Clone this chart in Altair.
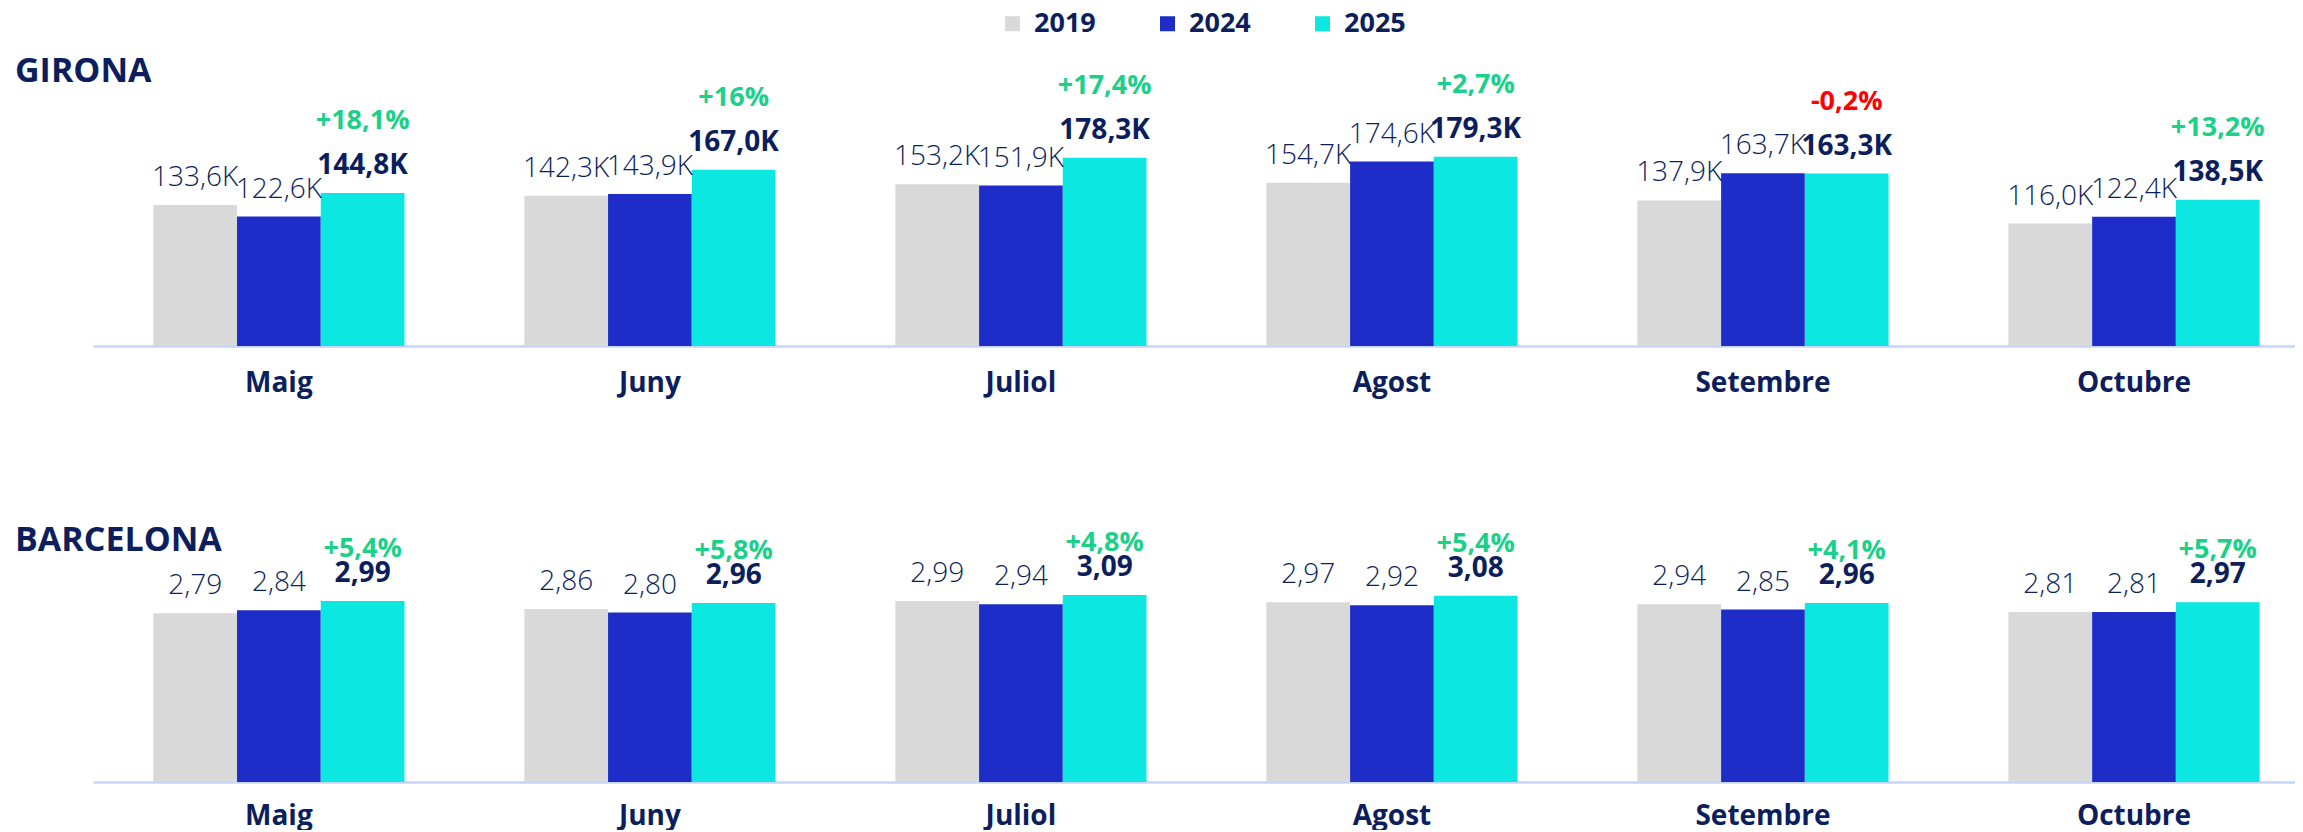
import altair as alt
import pandas as pd

months = ["Maig", "Juny", "Juliol", "Agost", "Setembre", "Octubre"]
years = ["2019", "2024", "2025"]

girona_2019 = [133.6, 142.3, 153.2, 154.7, 137.9, 116.0]
girona_2024 = [122.6, 143.9, 151.9, 174.6, 163.7, 122.4]
girona_2025 = [144.8, 167.0, 178.3, 179.3, 163.3, 138.5]
girona_pct = ["+18,1%", "+16%", "+17,4%", "+2,7%", "-0,2%", "+13,2%"]

bcn_2019 = [2.79, 2.86, 2.99, 2.97, 2.94, 2.81]
bcn_2024 = [2.84, 2.80, 2.94, 2.92, 2.85, 2.81]
bcn_2025 = [2.99, 2.96, 3.09, 3.08, 2.96, 2.97]
bcn_pct = ["+5,4%", "+5,8%", "+4,8%", "+5,4%", "+4,1%", "+5,7%"]

FONT = "Open Sans"
NAVY = "#0c1f5c"
GREEN = "#1bd089"
RED = "#ff0000"
AXIS = "#c6d5f7"
COLORS = ["#d9d9d9", "#1e2cc8", "#0ce7e1"]


def build_df(s19, s24, s25, pct, fmt):
    rows = []
    for i, m in enumerate(months):
        for y, s in zip(years, [s19, s24, s25]):
            rows.append({
                "month": m,
                "year": y,
                "value": s[i],
                "label": fmt(s[i]),
                "pct": pct[i] if y == "2025" else "",
                "neg": pct[i].startswith("-"),
            })
    return pd.DataFrame(rows)


df_g = build_df(girona_2019, girona_2024, girona_2025, girona_pct,
                lambda v: f"{v:.1f}".replace(".", ",") + "K")
df_b = build_df(bcn_2019, bcn_2024, bcn_2025, bcn_pct,
                lambda v: f"{v:.2f}".replace(".", ","))

legend = alt.Legend(
    orient="none", legendX=906, legendY=-39, direction="horizontal", title=None,
    symbolType="square", symbolSize=225, symbolStrokeWidth=0,
    labelFont=FONT, labelFontSize=27, labelFontWeight="bold", labelColor=NAVY,
    columnPadding=58, labelOffset=8, padding=0,
)


def panel(df, title, ymax, height, pct_dy, title_dy, label_pad):
    base = alt.Chart(df).encode(
        x=alt.X(
            "month:N", sort=months,
            scale=alt.Scale(paddingInner=0.323, paddingOuter=0.129, align=0.63),
            axis=alt.Axis(
                title=None, labelAngle=0, ticks=False, tickSize=0, labelPadding=label_pad,
                labelFont=FONT, labelFontSize=28, labelFontWeight="bold",
                labelColor=NAVY, domainColor=AXIS, domainWidth=2.5, grid=False,
            ),
        ),
        xOffset=alt.XOffset("year:N", sort=years),
        y=alt.Y("value:Q", scale=alt.Scale(domain=[0, ymax], nice=False, zero=True), axis=None),
    )
    bars = base.mark_bar().encode(
        color=alt.Color("year:N", sort=years,
                        scale=alt.Scale(domain=years, range=COLORS), legend=legend)
    )
    old = base.transform_filter("datum.year != '2025'").mark_text(
        baseline="alphabetic", dy=-19, font=FONT, fontSize=28, fontWeight=300, color=NAVY
    ).encode(text="label:N")
    new = base.transform_filter("datum.year == '2025'").mark_text(
        baseline="alphabetic", dy=-19, font=FONT, fontSize=28, fontWeight="bold", color=NAVY
    ).encode(text="label:N")
    pct = base.transform_filter("datum.year == '2025'").mark_text(
        baseline="alphabetic", dy=pct_dy, font=FONT, fontSize=27, fontWeight="bold"
    ).encode(
        text="pct:N",
        color=alt.condition("datum.neg", alt.value(RED), alt.value(GREEN)),
    )
    return alt.layer(bars, old, new, pct).properties(
        width=2202, height=height,
        title=alt.TitleParams(
            title, anchor="start", frame="group", dx=-78, dy=title_dy, offset=0,
            baseline="alphabetic", font=FONT, fontSize=34, fontWeight="bold", color=NAVY,
        ),
    )


top = panel(df_g, "GIRONA", 297 / 1.056, 297, -64, 67, 23)
bottom = panel(df_b, "BARCELONA", 267 / 60.5, 267, -44, 70, 20)

chart = alt.vconcat(top, bottom, spacing=118).resolve_scale(
    y="independent"
).configure_view(stroke=None).properties(
    padding={"left": 7, "top": 2, "right": 0, "bottom": 0}
)

chart.save("out.html", embed_options={"renderer": "svg", "actions": False})
